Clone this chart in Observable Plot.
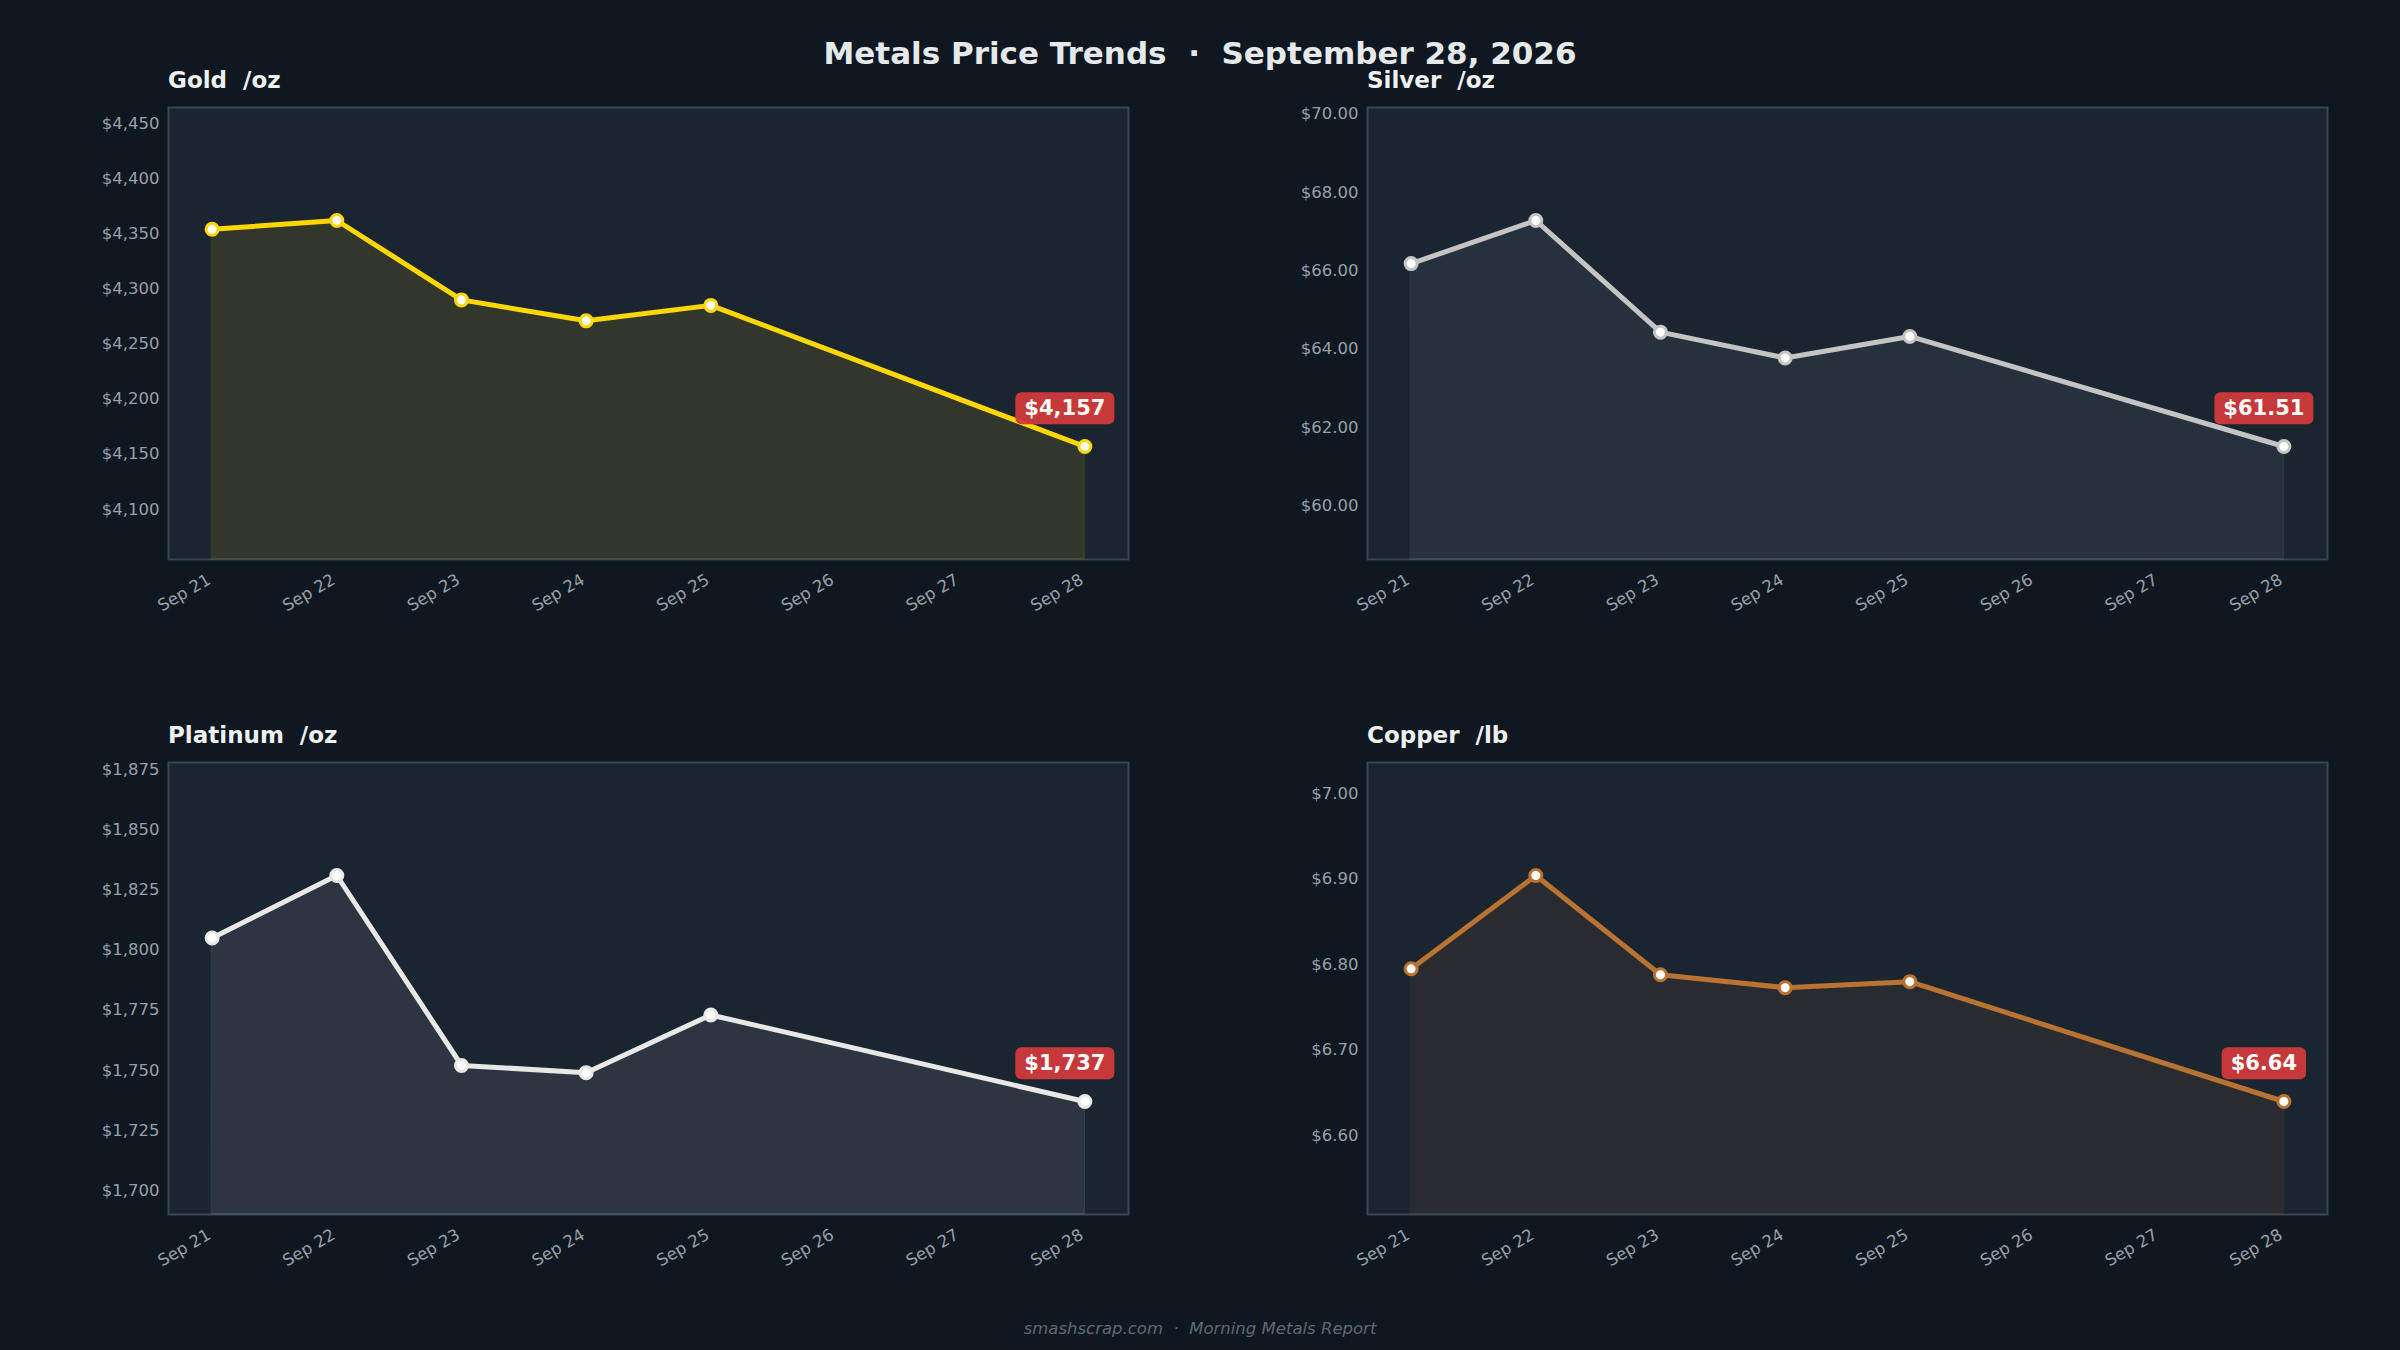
<!DOCTYPE html>
<html>
<head>
<meta charset="utf-8">
<script src="https://cdn.jsdelivr.net/npm/d3@7"></script>
<script src="https://cdn.jsdelivr.net/npm/@observablehq/plot@0.6"></script>
<style>
  html, body { margin: 0; padding: 0; background: #0f1720; }
  #page { position: relative; width: 2400px; height: 1350px; background: #0f1720; overflow: hidden; font-family: "DejaVu Sans", sans-serif; }
  .title { position: absolute; left: 0; width: 2400px; top: 36px; text-align: center; color: #e6e9ec; font-weight: bold; font-size: 31px; line-height: 34px; white-space: pre; }
  .ptitle { position: absolute; color: #eef0f2; font-weight: bold; font-size: 23px; line-height: 26px; white-space: pre; }
  .footer { position: absolute; left: 0; width: 2400px; top: 1318px; text-align: center; color: #5f6873; font-style: italic; font-size: 16.5px; line-height: 22px; white-space: pre; }
  .panel { position: absolute; }
</style>
</head>
<body>
<div id="page">
  <div class="title">Metals Price Trends  ·  September 28, 2026</div>
  <div class="footer">smashscrap.com  ·  Morning Metals Report</div>
</div>
<script>
const dates = ["2026-09-21", "2026-09-22", "2026-09-23", "2026-09-24", "2026-09-25", "2026-09-28"];
const tickDates = ["2026-09-21", "2026-09-22", "2026-09-23", "2026-09-24", "2026-09-25", "2026-09-26", "2026-09-27", "2026-09-28"];

const gold = [4354, 4362, 4290, 4271, 4285, 4157];
const silver = [66.18, 67.28, 64.43, 63.77, 64.32, 61.51];
const platinum = [1805, 1831, 1752, 1749, 1773, 1737];
const copper = [6.795, 6.904, 6.788, 6.773, 6.780, 6.64];

const goldTicks = [4100, 4150, 4200, 4250, 4300, 4350, 4400, 4450];
const silverTicks = [60, 62, 64, 66, 68, 70];
const platinumTicks = [1700, 1725, 1750, 1775, 1800, 1825, 1850, 1875];
const copperTicks = [6.6, 6.7, 6.8, 6.9, 7.0];

const panels = [
  {name: "Gold  /oz", values: gold, ticks: goldTicks, color: "#FFD700", fillOpacity: 0.10, fmt: d3.format("$,.0f"), left: 168, top: 107},
  {name: "Silver  /oz", values: silver, ticks: silverTicks, color: "#C4C4C4", fillOpacity: 0.08, fmt: d3.format("$,.2f"), left: 1367, top: 107},
  {name: "Platinum  /oz", values: platinum, ticks: platinumTicks, color: "#E8E8E6", fillOpacity: 0.09, fmt: d3.format("$,.0f"), left: 168, top: 762},
  {name: "Copper  /lb", values: copper, ticks: copperTicks, color: "#B87333", fillOpacity: 0.09, fmt: d3.format("$,.2f"), left: 1367, top: 762}
];

const page = document.getElementById("page");
const parse = d3.utcParse("%Y-%m-%d");
const W = 960, H = 452;
const mL = 110, mR = 20, mT = 10, mB = 90;

for (const p of panels) {
  const data = dates.map((d, i) => ({date: parse(d), value: p.values[i]}));
  const lo = d3.min(p.values), hi = d3.max(p.values);
  const pad = (hi - lo) * 0.5;
  const yDomain = [lo - pad, hi + pad];
  const t0 = parse(dates[0]), t1 = parse(dates[dates.length - 1]);
  const span = t1 - t0;
  const xDomain = [new Date(+t0 - span * 0.05), new Date(+t1 + span * 0.05)];
  const last = data[data.length - 1];

  const chart = Plot.plot({
    width: W + mL + mR,
    height: H + mT + mB,
    marginLeft: mL, marginRight: mR, marginTop: mT, marginBottom: mB,
    style: {fontFamily: "DejaVu Sans", fontSize: "16px", color: "#97a0aa", background: "transparent", overflow: "visible"},
    x: {type: "utc", domain: xDomain},
    y: {domain: yDomain},
    marks: [
      Plot.frame({fill: "#1b2530", stroke: "#3a4652", strokeWidth: 2}),
      Plot.areaY(data, {x: "date", y1: () => yDomain[0], y2: "value", fill: p.color, fillOpacity: p.fillOpacity, stroke: p.color, strokeOpacity: 0.12, strokeWidth: 1}),
      Plot.line(data, {x: "date", y: "value", stroke: p.color, strokeWidth: 5, strokeLinejoin: "round"}),
      Plot.dot(data, {x: "date", y: "value", r: 6, fill: "white", stroke: p.color, strokeWidth: 3}),
      Plot.text([last], {x: "date", y: "value", text: d => p.fmt(d.value), dx: -20, dy: -38, fill: "white", fontWeight: "bold", fontSize: 21, className: "badge-text"}),
      Plot.axisX({ticks: tickDates.map(parse), tickFormat: d3.utcFormat("%b %d"), tickRotate: -30, tickSize: 0, tickPadding: 19, dx: -3, label: null, fill: "#97a0aa", fontSize: 16.5}),
      Plot.axisY({ticks: p.ticks, tickFormat: p.fmt, tickSize: 0, tickPadding: 9, label: null, fill: "#97a0aa", fontSize: 16.5})
    ]
  });

  const wrap = document.createElement("div");
  wrap.className = "panel";
  wrap.style.left = (p.left - mL) + "px";
  wrap.style.top = (p.top - mT) + "px";
  wrap.appendChild(chart);
  page.appendChild(wrap);

  const t = document.createElement("div");
  t.className = "ptitle";
  t.style.left = p.left + "px";
  t.style.top = (p.top - 40) + "px";
  t.textContent = p.name;
  page.appendChild(t);

  // rounded badge behind the last-value label
  chart.querySelectorAll("g.badge-text text").forEach(txt => {
    const bb = txt.getBBox();
    const ns = "http://www.w3.org/2000/svg";
    const rect = document.createElementNS(ns, "rect");
    rect.setAttribute("x", bb.x - 9);
    rect.setAttribute("y", bb.y - 4);
    rect.setAttribute("width", bb.width + 18);
    rect.setAttribute("height", bb.height + 8);
    rect.setAttribute("rx", 6);
    rect.setAttribute("fill", "#d0393a");
    rect.setAttribute("fill-opacity", 0.95);
    const tr = txt.getAttribute("transform");
    if (tr) rect.setAttribute("transform", tr);
    txt.parentNode.insertBefore(rect, txt);
  });
}
</script>
</body>
</html>
